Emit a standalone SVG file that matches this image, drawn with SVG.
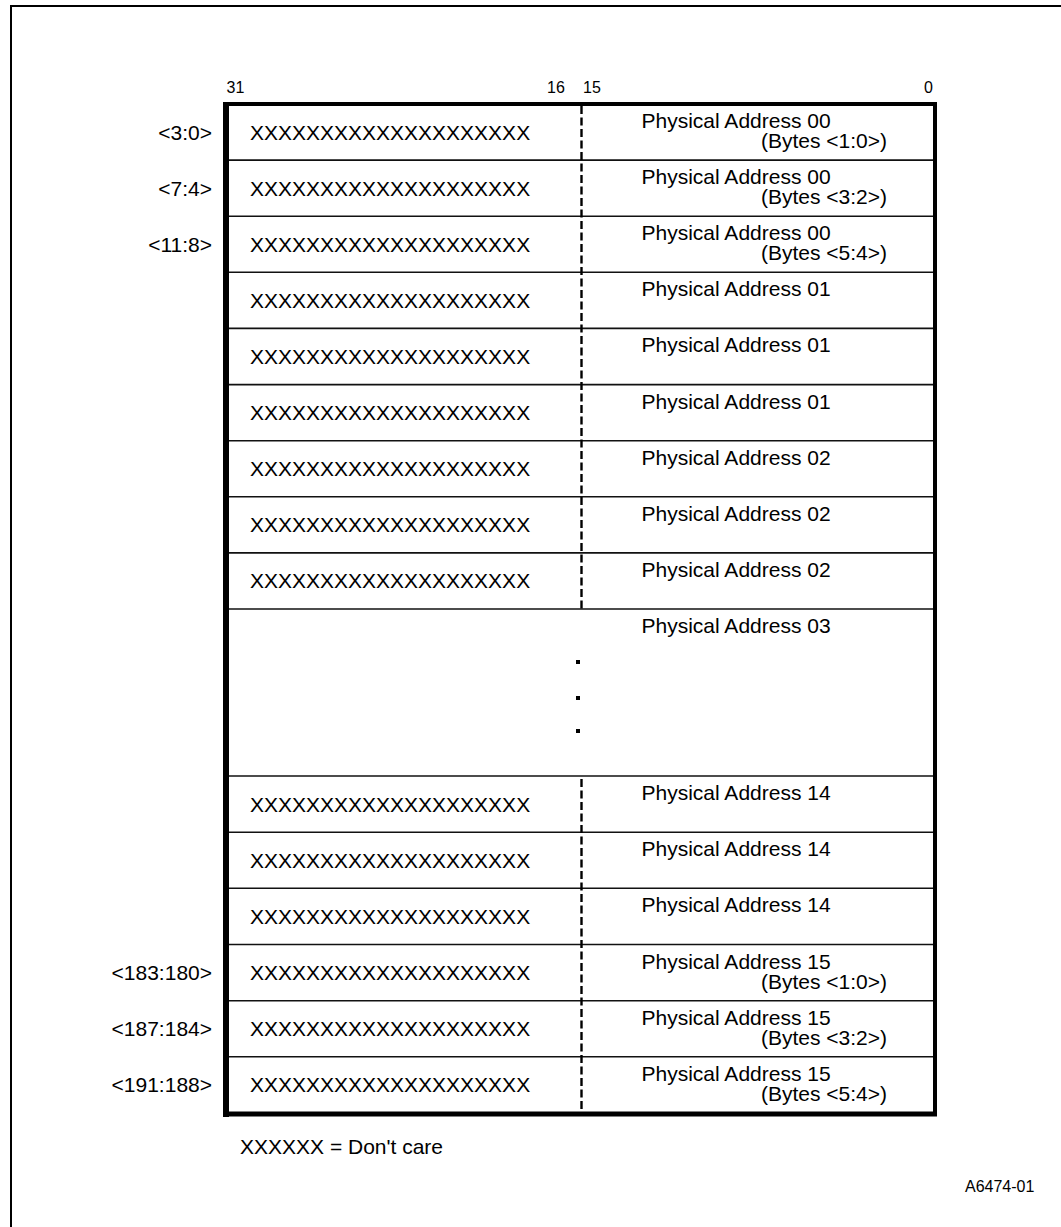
<svg xmlns="http://www.w3.org/2000/svg" width="1061" height="1227" viewBox="0 0 1061 1227">
<style>
text{font-family:"Liberation Sans",Arial,sans-serif;fill:#000}
.t{font-size:21px}
.h{font-size:16px}
.e{text-anchor:end}
.sep{stroke:#111;stroke-width:1.6;fill:none}
.dash{stroke:#000;stroke-width:2.4;stroke-dasharray:8 3.5;fill:none}
</style>
<rect x="0" y="0" width="1061" height="1227" fill="#fff"/>
<g id="frame">
<path d="M11,1227 V6 H1061" fill="none" stroke="#000" stroke-width="2"/>
</g>
<g id="header">
<text class="h" x="226.5" y="93">31</text>
<text class="h" x="547" y="93">16</text>
<text class="h" x="583" y="93">15</text>
<text class="h" x="924" y="93">0</text>
</g>
<g id="connectors">
<line class="sep" x1="229" y1="160.1" x2="933" y2="160.1"/>
<line class="sep" x1="229" y1="216.2" x2="933" y2="216.2"/>
<line class="sep" x1="229" y1="272.3" x2="933" y2="272.3"/>
<line class="sep" x1="229" y1="328.4" x2="933" y2="328.4"/>
<line class="sep" x1="229" y1="384.6" x2="933" y2="384.6"/>
<line class="sep" x1="229" y1="440.7" x2="933" y2="440.7"/>
<line class="sep" x1="229" y1="496.8" x2="933" y2="496.8"/>
<line class="sep" x1="229" y1="552.9" x2="933" y2="552.9"/>
<line class="sep" x1="229" y1="609" x2="933" y2="609" stroke-width="2"/>
<line class="sep" x1="229" y1="776" x2="933" y2="776" stroke-width="2"/>
<line class="sep" x1="229" y1="832.2" x2="933" y2="832.2"/>
<line class="sep" x1="229" y1="888.3" x2="933" y2="888.3"/>
<line class="sep" x1="229" y1="944.5" x2="933" y2="944.5"/>
<line class="sep" x1="229" y1="1000.7" x2="933" y2="1000.7"/>
<line class="sep" x1="229" y1="1056.8" x2="933" y2="1056.8"/>
<line class="dash" x1="581.5" y1="106" x2="581.5" y2="609"/>
<line class="dash" x1="581.5" y1="779" x2="581.5" y2="1112"/>
<path d="M226,1114 V104 H935" fill="none" stroke="#000" stroke-width="4" stroke-linejoin="round"/>
<line x1="226" y1="102" x2="226" y2="1117" stroke="#000" stroke-width="6"/>
<line x1="935" y1="102" x2="935" y2="1116" stroke="#000" stroke-width="4"/>
<line x1="223" y1="1114" x2="937" y2="1114" stroke="#000" stroke-width="5"/>
</g>
<g id="row0"><text class="t e" x="212" y="139.5">&lt;3:0&gt;</text><text class="t" x="250" y="139.5">XXXXXXXXXXXXXXXXXXXX</text><text class="t" x="641.5" y="128">Physical Address 00</text><text class="t e" x="887" y="148">(Bytes &lt;1:0&gt;)</text></g>
<g id="row1"><text class="t e" x="212" y="195.6">&lt;7:4&gt;</text><text class="t" x="250" y="195.6">XXXXXXXXXXXXXXXXXXXX</text><text class="t" x="641.5" y="184.1">Physical Address 00</text><text class="t e" x="887" y="204.1">(Bytes &lt;3:2&gt;)</text></g>
<g id="row2"><text class="t e" x="212" y="251.7">&lt;11:8&gt;</text><text class="t" x="250" y="251.7">XXXXXXXXXXXXXXXXXXXX</text><text class="t" x="641.5" y="240.2">Physical Address 00</text><text class="t e" x="887" y="260.2">(Bytes &lt;5:4&gt;)</text></g>
<g id="row3"><text class="t" x="250" y="307.8">XXXXXXXXXXXXXXXXXXXX</text><text class="t" x="641.5" y="296.3">Physical Address 01</text></g>
<g id="row4"><text class="t" x="250" y="363.9">XXXXXXXXXXXXXXXXXXXX</text><text class="t" x="641.5" y="352.4">Physical Address 01</text></g>
<g id="row5"><text class="t" x="250" y="420.1">XXXXXXXXXXXXXXXXXXXX</text><text class="t" x="641.5" y="408.6">Physical Address 01</text></g>
<g id="row6"><text class="t" x="250" y="476.2">XXXXXXXXXXXXXXXXXXXX</text><text class="t" x="641.5" y="464.7">Physical Address 02</text></g>
<g id="row7"><text class="t" x="250" y="532.3">XXXXXXXXXXXXXXXXXXXX</text><text class="t" x="641.5" y="520.8">Physical Address 02</text></g>
<g id="row8"><text class="t" x="250" y="588.4">XXXXXXXXXXXXXXXXXXXX</text><text class="t" x="641.5" y="576.9">Physical Address 02</text></g>
<g id="row-gap"><text class="t" x="641.5" y="633">Physical Address 03</text>
<rect x="576" y="660" width="4" height="4"/><rect x="576" y="696" width="4" height="4"/><rect x="576" y="729" width="4" height="4"/></g>
<g id="row9"><text class="t" x="250" y="811.5">XXXXXXXXXXXXXXXXXXXX</text><text class="t" x="641.5" y="800">Physical Address 14</text></g>
<g id="row10"><text class="t" x="250" y="867.7">XXXXXXXXXXXXXXXXXXXX</text><text class="t" x="641.5" y="856.2">Physical Address 14</text></g>
<g id="row11"><text class="t" x="250" y="923.8">XXXXXXXXXXXXXXXXXXXX</text><text class="t" x="641.5" y="912.3">Physical Address 14</text></g>
<g id="row12"><text class="t e" x="212" y="980">&lt;183:180&gt;</text><text class="t" x="250" y="980">XXXXXXXXXXXXXXXXXXXX</text><text class="t" x="641.5" y="968.5">Physical Address 15</text><text class="t e" x="887" y="988.5">(Bytes &lt;1:0&gt;)</text></g>
<g id="row13"><text class="t e" x="212" y="1036.2">&lt;187:184&gt;</text><text class="t" x="250" y="1036.2">XXXXXXXXXXXXXXXXXXXX</text><text class="t" x="641.5" y="1024.7">Physical Address 15</text><text class="t e" x="887" y="1044.7">(Bytes &lt;3:2&gt;)</text></g>
<g id="row14"><text class="t e" x="212" y="1092.3">&lt;191:188&gt;</text><text class="t" x="250" y="1092.3">XXXXXXXXXXXXXXXXXXXX</text><text class="t" x="641.5" y="1080.8">Physical Address 15</text><text class="t e" x="887" y="1100.8">(Bytes &lt;5:4&gt;)</text></g>
<g id="legend"><text class="t" x="240" y="1154">XXXXXX = Don't care</text></g>
<g id="figid"><text class="h" x="965" y="1192">A6474-01</text></g>
</svg>
